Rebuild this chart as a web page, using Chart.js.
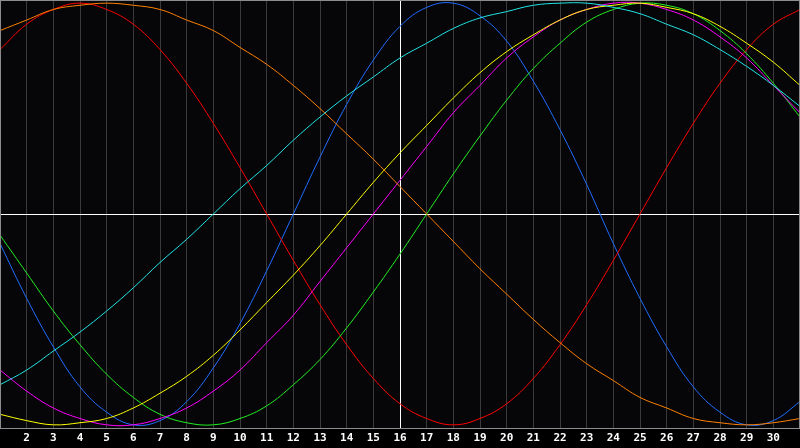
<!DOCTYPE html>
<html>
<head>
<meta charset="utf-8">
<script src="https://cdn.jsdelivr.net/npm/chart.js@4/dist/chart.umd.min.js"></script>
<style>
  html, body { margin: 0; padding: 0; background: #000; }
  canvas { display: block; }
</style>
</head>
<body>
<canvas id="myChart" width="800" height="448"></canvas>
<script>
// days of the month (x values)
const days = [1, 2, 3, 4, 5, 6, 7, 8, 9, 10, 11, 12, 13, 14, 15, 16, 17, 18, 19, 20,
  21, 22, 23, 24, 25, 26, 27, 28, 29, 30, 31];

// cycle values in percent
const blueValues    = [-14, -40, -63, -82, -94, -100, -98, -89, -73, -52, -27, 0, 27, 52, 73, 89,
  98, 100, 94, 82, 63, 40, 14, -14, -40, -63, -82, -94, -100, -98, -89];
const redValues     = [78, 90, 97, 100, 97, 90, 78, 62, 43, 22, 0, -22, -43, -62, -78, -90,
  -97, -100, -97, -90, -78, -62, -43, -22, 0, 22, 43, 62, 78, 90, 97];
const greenValues   = [-10, -28, -46, -62, -76, -87, -95, -99, -100, -97, -91, -81, -69, -54, -37, -19,
  0, 19, 37, 54, 69, 81, 91, 97, 100, 99, 95, 87, 76, 62, 46];
const magentaValues = [-74, -84, -92, -97, -100, -100, -97, -92, -84, -74, -61, -48, -32, -16, 0, 16,
  32, 48, 61, 74, 84, 92, 97, 100, 100, 97, 92, 84, 74, 61, 48];
const yellowValues  = [-95, -98, -100, -99, -97, -92, -85, -77, -67, -55, -42, -29, -15, 0, 15, 29,
  42, 55, 67, 77, 85, 92, 97, 99, 100, 98, 95, 89, 81, 72, 61];
const orangeValues  = [87, 92, 97, 99, 100, 99, 97, 92, 87, 79, 71, 61, 50, 38, 26, 13,
  0, -13, -26, -38, -50, -61, -71, -79, -87, -92, -97, -99, -100, -99, -97];
const cyanValues    = [-81, -74, -65, -56, -46, -35, -23, -12, 0, 12, 23, 35, 46, 56, 65, 74,
  81, 88, 93, 96, 99, 100, 100, 98, 95, 90, 85, 78, 70, 61, 51];

const markedDay = 16;

function toPoints(values) {
  return values.map((v, i) => ({ x: days[i], y: v }));
}

function line(values, color) {
  return {
    data: toPoints(values),
    borderColor: color,
    borderWidth: 1,
    pointRadius: 0,
    tension: 0.4,
    fill: false
  };
}

const chartData = {
  datasets: [
    line(cyanValues, '#22e4e4'),
    line(orangeValues, '#ff8000'),
    line(yellowValues, '#ffff00'),
    line(magentaValues, '#ff00ff'),
    line(greenValues, '#22f022'),
    line(redValues, '#ff0000'),
    line(blueValues, '#1f6dff')
  ]
};

// dark plot background and a grey frame around it
const framePlugin = {
  id: 'frame',
  beforeDraw: (chart) => {
    const ctx = chart.ctx;
    const a = chart.chartArea;
    ctx.save();
    ctx.fillStyle = '#000000';
    ctx.fillRect(0, 0, chart.width, chart.height);
    ctx.fillStyle = '#060609';
    ctx.fillRect(a.left, a.top, a.right - a.left, a.bottom - a.top);
    ctx.restore();
  },
  afterDraw: (chart) => {
    const ctx = chart.ctx;
    const a = chart.chartArea;
    ctx.save();
    ctx.strokeStyle = '#8c8c8c';
    ctx.lineWidth = 1;
    ctx.strokeRect(a.left + 0.5, a.top + 0.5, a.right - a.left - 1, a.bottom - a.top);
    ctx.restore();
  }
};

const config = {
  type: 'line',
  data: chartData,
  options: {
    responsive: false,
    animation: false,
    layout: { padding: 0 },
    plugins: {
      legend: { display: false },
      tooltip: { enabled: false }
    },
    scales: {
      x: {
        type: 'linear',
        min: 1,
        max: 31,
        // plot runs edge to edge, no side padding for the end labels
        afterFit: (scale) => { scale.paddingLeft = 0; scale.paddingRight = 0; },
        grid: {
          color: (c) => (c.tick && c.tick.value === markedDay) ? '#ffffff' : '#3a3a3a',
          drawTicks: false
        },
        border: { display: false },
        ticks: {
          stepSize: 1,
          autoSkip: false,
          maxRotation: 0,
          padding: 4.5,
          color: '#ffffff',
          font: { family: 'DejaVu Sans Mono', size: 11, weight: 'bold', lineHeight: 1 },
          callback: (v) => (v === 1 || v === 31) ? '' : v
        }
      },
      y: {
        min: -101.5,
        max: 101.5,
        afterBuildTicks: (scale) => { scale.ticks = [{ value: 0 }]; },
        afterFit: (scale) => { scale.width = 0; scale.paddingTop = 0; scale.paddingBottom = 0; },
        grid: {
          color: '#ffffff',
          drawTicks: false
        },
        border: { display: false },
        ticks: { display: false }
      }
    }
  },
  plugins: [framePlugin]
};

const chart = new Chart(document.getElementById('myChart').getContext('2d'), config);
</script>
</body>
</html>
